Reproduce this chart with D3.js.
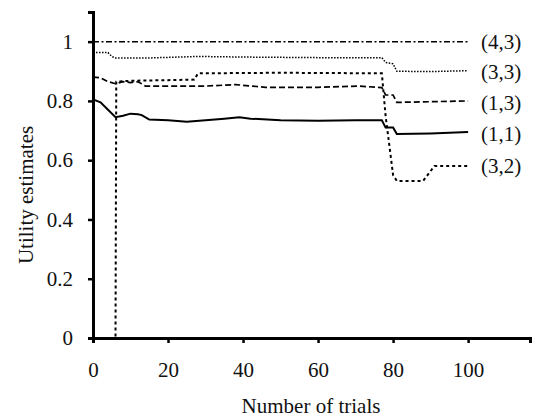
<!DOCTYPE html>
<html>
<head>
<meta charset="utf-8">
<script src="https://cdn.jsdelivr.net/npm/d3@7"></script>
<style>
  html, body { margin: 0; padding: 0; background: #fff; }
  svg { display: block; }
  text { font-family: "Liberation Serif", "Times New Roman", serif; fill: #111; }
</style>
</head>
<body>
<svg id="chart" width="534" height="417"></svg>
<script>
// ---- data ----
const xTicks = [0, 20, 40, 60, 80, 100];
const yTicks = [0, 0.2, 0.4, 0.6, 0.8, 1];
const yTickLabels = ["0", "0.2", "0.4", "0.6", "0.8", "1"];
const seriesNames = ["(4,3)", "(3,3)", "(1,3)", "(1,1)", "(3,2)"];

const s43 = [[0, 1], [100, 1]];
const s33 = [[0, 0.963], [4, 0.963], [5, 0.95], [6, 0.945], [15, 0.945], [28, 0.95], [40, 0.948], [60, 0.946], [77, 0.946], [78, 0.93], [80, 0.925], [81, 0.9], [90, 0.899], [100, 0.902]];
const s13 = [[0, 0.88], [2, 0.878], [4, 0.865], [6, 0.858], [8, 0.865], [10, 0.862], [12, 0.865], [14, 0.85], [20, 0.85], [30, 0.85], [38, 0.855], [46, 0.846], [60, 0.846], [71, 0.85], [77, 0.845], [78, 0.82], [80, 0.82], [81, 0.795], [100, 0.8]];
const s11 = [[0, 0.805], [2, 0.795], [4, 0.77], [6, 0.745], [8, 0.75], [10, 0.757], [12, 0.755], [13, 0.752], [15, 0.737], [20, 0.735], [25, 0.73], [30, 0.735], [35, 0.74], [39, 0.745], [42, 0.74], [50, 0.735], [60, 0.733], [70, 0.735], [77, 0.735], [78, 0.71], [80, 0.71], [81, 0.688], [90, 0.69], [100, 0.695]];
const s32 = [[0, 0], [6, 0], [6.2, 0.865], [10, 0.868], [20, 0.87], [27, 0.872], [28, 0.893], [50, 0.895], [77, 0.893], [78, 0.75], [79, 0.65], [80, 0.55], [81, 0.53], [88, 0.53], [91, 0.58], [100, 0.58]];
const seriesData = [s43, s33, s13, s11, s32];
const labelValues = [1, 0.9, 0.795, 0.69, 0.58];

// ---- layout ----
const svg = d3.select("#chart");
const x = d3.scaleLinear().domain([0, 116.5]).range([93, 530]);
const y = d3.scaleLinear().domain([0, 1.1]).range([338, 12]);

const styles = [
  { dash: "6,2.5,2,2.5", w: 1.5 },
  { dash: "1.5,1.5", w: 1.5 },
  { dash: "6,3", w: 1.7 },
  { dash: null, w: 2 },
  { dash: "3,3", w: 2 }
];

const line = d3.line().x(d => x(d[0])).y(d => y(d[1]));

seriesData.forEach((s, i) => {
  svg.append("path")
    .datum(s)
    .attr("d", line)
    .attr("fill", "none")
    .attr("stroke", "#000")
    .attr("stroke-width", styles[i].w)
    .attr("stroke-dasharray", styles[i].dash);
  svg.append("text")
    .attr("x", x(100) + 13)
    .attr("y", y(labelValues[i]))
    .attr("dy", "0.35em")
    .attr("font-size", 21)
    .text(seriesNames[i]);
});

// axes
const xAxis = d3.axisBottom(x).tickValues(xTicks).tickSize(5).tickPadding(19).tickFormat(d3.format("d"));
const gx = svg.append("g").attr("transform", `translate(0,${y(0)})`).call(xAxis);
gx.select(".domain").attr("stroke", "#000").attr("stroke-width", 3);
gx.selectAll(".tick line").attr("stroke", "#000").attr("stroke-width", 2.5);
gx.selectAll(".tick text").attr("font-size", 21).attr("font-family", "Liberation Serif").attr("fill", "#111");

const yAxis = d3.axisLeft(y).tickValues(yTicks).tickSize(5).tickPadding(15).tickFormat((d, i) => yTickLabels[i]);
const gy = svg.append("g").attr("transform", `translate(${x(0)},0)`).call(yAxis);
gy.select(".domain").attr("stroke", "#000").attr("stroke-width", 3);
gy.selectAll(".tick line").attr("stroke", "#000").attr("stroke-width", 2.5);
gy.selectAll(".tick text").attr("font-size", 21).attr("font-family", "Liberation Serif").attr("fill", "#111");

// axis titles
svg.append("text")
  .attr("x", 311).attr("y", 413)
  .attr("text-anchor", "middle")
  .attr("font-size", 21)
  .text("Number of trials");

svg.append("text")
  .attr("transform", "translate(33,195) rotate(-90)")
  .attr("text-anchor", "middle")
  .attr("font-size", 21)
  .text("Utility estimates");
</script>
</body>
</html>
